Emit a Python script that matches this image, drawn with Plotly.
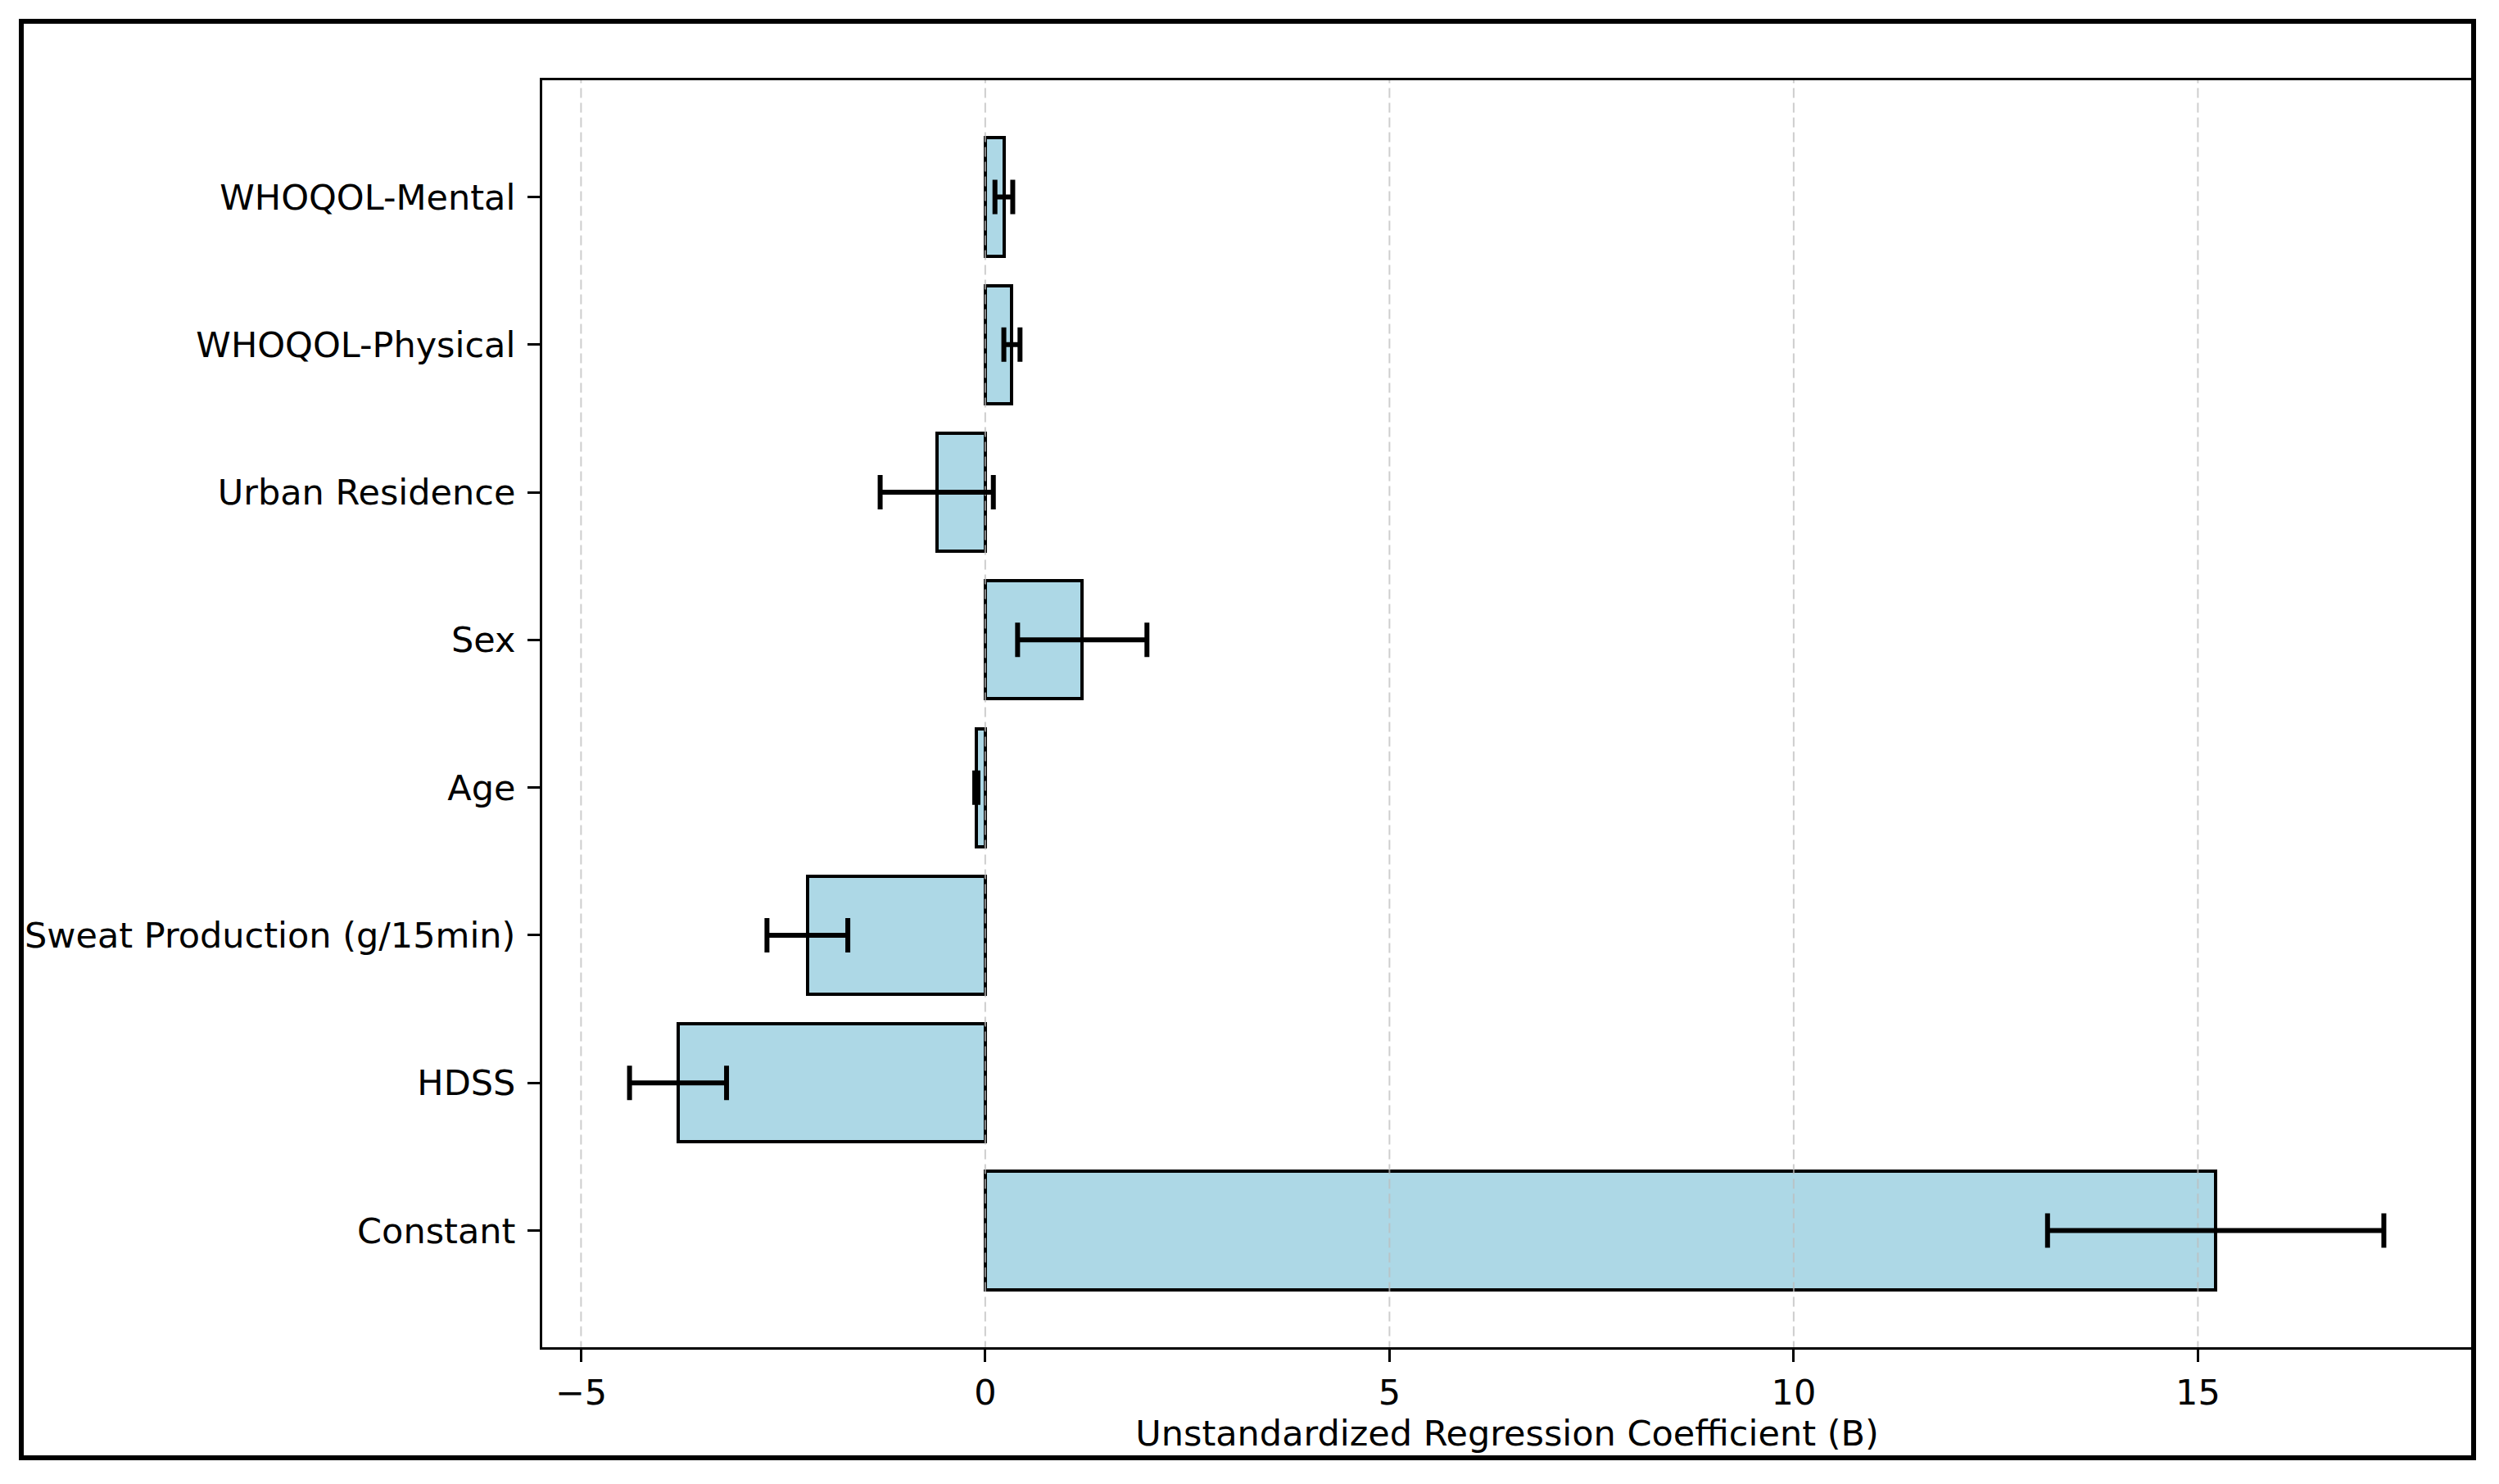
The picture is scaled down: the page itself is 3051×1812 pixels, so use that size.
import plotly.graph_objects as go

# ---- data (bottom to top) ----
categories = ["Constant", "HDSS", "Sweat Production (g/15min)", "Age", "Sex",
              "Urban Residence", "WHOQOL-Physical", "WHOQOL-Mental"]
coefficients = [15.22, -3.8, -2.2, -0.11, 1.2, -0.6, 0.33, 0.23]
errors = [2.08, 0.6, 0.5, 0.02, 0.8, 0.7, 0.1, 0.11]
x_ticks = [-5, 0, 5, 10, 15]
x_title = "Unstandardized Regression Coefficient (B)"

positions = list(range(len(categories)))

W, H = 3051, 1812
OFF = 8  # page body margin offset
L, T = 662 - OFF, 98 - OFF
R = W - (3018 - OFF)
B = H - (1645 - OFF)
X_RANGE = [-5.48, 18.39]
Y_RANGE = [-0.79, 7.79]

FONT = "DejaVu Sans"

fig = go.Figure()

# bars
fig.add_trace(go.Bar(
    x=coefficients, y=positions, orientation="h", width=0.8,
    marker=dict(color="#ADD8E6", line=dict(color="black", width=4)),
    showlegend=False, hoverinfo="skip",
))

# dashed grid lines drawn above bars (matplotlib zorder), below error bars
gx, gy = [], []
for t in x_ticks:
    gx += [t, t, None]
    gy += [-10, 10, None]
fig.add_trace(go.Scatter(
    x=gx, y=gy, mode="lines",
    line=dict(color="rgba(190,190,190,0.75)", width=2, dash="12px,6px"),
    showlegend=False, hoverinfo="skip",
))

# error bars
fig.add_trace(go.Scatter(
    x=coefficients, y=positions, mode="markers",
    marker=dict(size=0.1, color="rgba(0,0,0,0)"),
    error_x=dict(type="data", array=errors, visible=True,
                 color="black", thickness=6, width=21),
    showlegend=False, hoverinfo="skip",
))

pw = W - L - R
ph = H - T - B


def px_x(px):
    return (px - OFF - L) / pw


def px_y(py):
    return (H - B - (py - OFF)) / ph


# outer black frame around the figure image
fig.add_shape(type="rect", xref="paper", yref="paper",
              x0=px_x(26), x1=px_x(3020), y0=px_y(1780), y1=px_y(26),
              line=dict(color="black", width=6), layer="above")

fig.update_layout(
    width=W, height=H, autosize=False,
    margin=dict(l=L, r=R, t=T, b=B, pad=0),
    paper_bgcolor="white", plot_bgcolor="white",
    font=dict(family=FONT, size=43, color="black"),
    bargap=0,
)

fig.update_xaxes(
    range=X_RANGE, tickvals=x_ticks, showgrid=False, zeroline=False,
    showline=True, linecolor="black", linewidth=3, mirror=True,
    ticks="outside", ticklen=15, tickwidth=3, tickcolor="black",
    tickfont=dict(family=FONT, size=43, color="black"),
    title=dict(text=x_title, font=dict(family=FONT, size=43, color="black"), standoff=8),
)
fig.update_yaxes(
    range=Y_RANGE, tickvals=positions, ticktext=categories,
    showgrid=False, zeroline=False,
    showline=True, linecolor="black", linewidth=3, mirror=True,
    ticks="outside", ticklen=15, tickwidth=3, tickcolor="black",
    ticklabelstandoff=6,
    tickfont=dict(family=FONT, size=43, color="black"),
)

fig.write_html("out.html")
